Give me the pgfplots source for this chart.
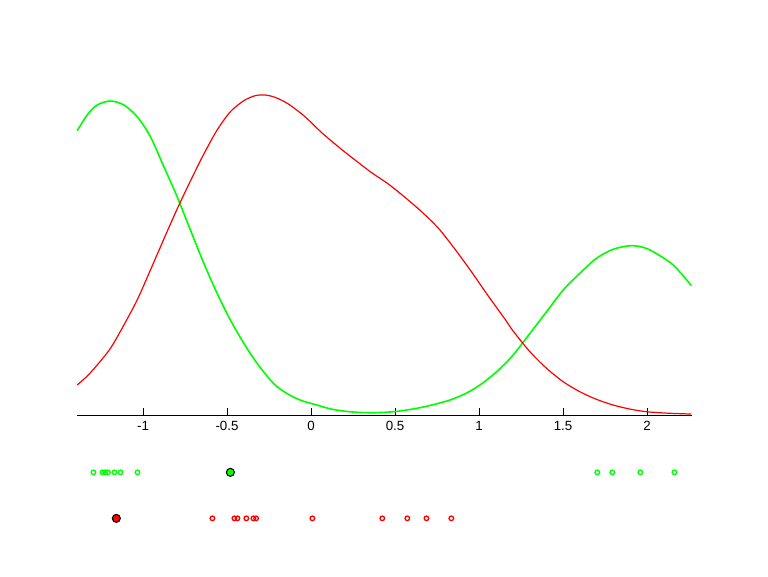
\documentclass[border=0pt]{standalone}
\usepackage{pgfplots}
\pgfplotsset{compat=1.18}
\usepackage{fontspec}
\setmainfont{Liberation Sans}

\definecolor{kdgreen}{RGB}{0,255,0}
\definecolor{kdred}{RGB}{255,0,0}

\begin{document}
\begin{tikzpicture}
\begin{axis}[
    scale only axis,
    width=461pt, height=432pt,
    xmin=-1.393, xmax=2.266,
    ymin=-161, ymax=415,
    axis x line=middle,
    axis y line=none,
    x axis line style={-},
    every inner x axis line/.append style={-},
    xtick={-1,-0.5,0,0.5,1,1.5,2},
    xticklabels={-1,-0.5,0,0.5,1,1.5,2},
    ytick=\empty,
    tick align=inside,
    major tick length=5pt,
    tick style={black, line width=0.75pt},
    axis line style={black, line width=0.75pt},
    xticklabel style={font=\fontsize{10}{12}\selectfont, yshift=-1pt},
    clip=false,
]
\coordinate (bl) at (rel axis cs:0,0);
\coordinate (tr) at (rel axis cs:1,1);

% green density
\addplot[kdgreen, line width=1.2pt, smooth, tension=0.5] coordinates {
(-1.392,284.3) (-1.332,300) (-1.273,310) (-1.194,314) (-1.114,310)
(-1.035,298.3) (-0.956,278.3) (-0.876,248.3) (-0.797,218.3) (-0.718,185)
(-0.638,151.7) (-0.559,121.7) (-0.480,95) (-0.400,71.7) (-0.321,51.7)
(-0.224,31.7) (-0.145,21.7) (-0.065,15) (0.034,10) (0.133,5.5)
(0.25,3) (0.371,2.3) (0.5,3.5) (0.629,6.7) (0.73,10.5) (0.827,15)
(0.92,21.5) (1.005,30) (1.105,43.3) (1.203,60) (1.303,81.7) (1.402,103.3)
(1.501,125) (1.600,141.7) (1.699,156.7) (1.798,165.7) (1.897,169.3)
(1.97,168) (2.037,163.3) (2.156,150) (2.264,129.3)
};

% red density
\addplot[kdred, line width=0.9pt, smooth, tension=0.5] coordinates {
(-1.392,30) (-1.332,39) (-1.273,50) (-1.194,66.7) (-1.114,90)
(-1.035,115) (-0.956,145) (-0.876,176) (-0.797,206) (-0.718,234)
(-0.638,261) (-0.559,285) (-0.480,303.3) (-0.400,314.3) (-0.333,319.3)
(-0.274,320) (-0.214,317.7) (-0.135,311) (-0.036,298.3) (0.064,282.3)
(0.162,268.3) (0.262,255) (0.361,242.3) (0.460,231) (0.559,217.7)
(0.658,203.3) (0.757,187) (0.856,166) (0.956,143) (1.055,119)
(1.154,96) (1.203,84) (1.303,63.3) (1.402,46.7) (1.501,33.3)
(1.600,23.3) (1.699,15.7) (1.798,10) (1.897,6) (1.997,3.3)
(2.13,1.8) (2.264,1)
};

% green samples
\addplot[only marks, mark=o, mark size=1.7pt, kdgreen, mark options={line width=1pt}] coordinates {
(-1.295,-57.3) (-1.241,-57.3) (-1.225,-57.3) (-1.209,-57.3) (-1.170,-57.3)
(-1.134,-57.3) (-1.033,-57.3) (1.704,-57.3) (1.793,-57.3) (1.960,-57.3) (2.163,-57.3)
};
\addplot[only marks, mark=*, mark size=3pt, mark options={fill=kdgreen, draw=black, line width=0.8pt}] coordinates {
(-0.480,-57.3)
};

% red samples
\addplot[only marks, mark=o, mark size=1.7pt, kdred, mark options={line width=1pt}] coordinates {
(-0.587,-103.3) (-0.456,-103.3) (-0.438,-103.3) (-0.385,-103.3) (-0.343,-103.3)
(-0.327,-103.3) (0.008,-103.3) (0.424,-103.3) (0.573,-103.3) (0.687,-103.3) (0.835,-103.3)
};
\addplot[only marks, mark=*, mark size=3pt, mark options={fill=kdred, draw=black, line width=0.8pt}] coordinates {
(-1.159,-103.3)
};
\end{axis}
\pgfresetboundingbox
\path ([xshift=-57.75pt]bl) rectangle ([xshift=57.2pt]tr);
\end{tikzpicture}
\end{document}
